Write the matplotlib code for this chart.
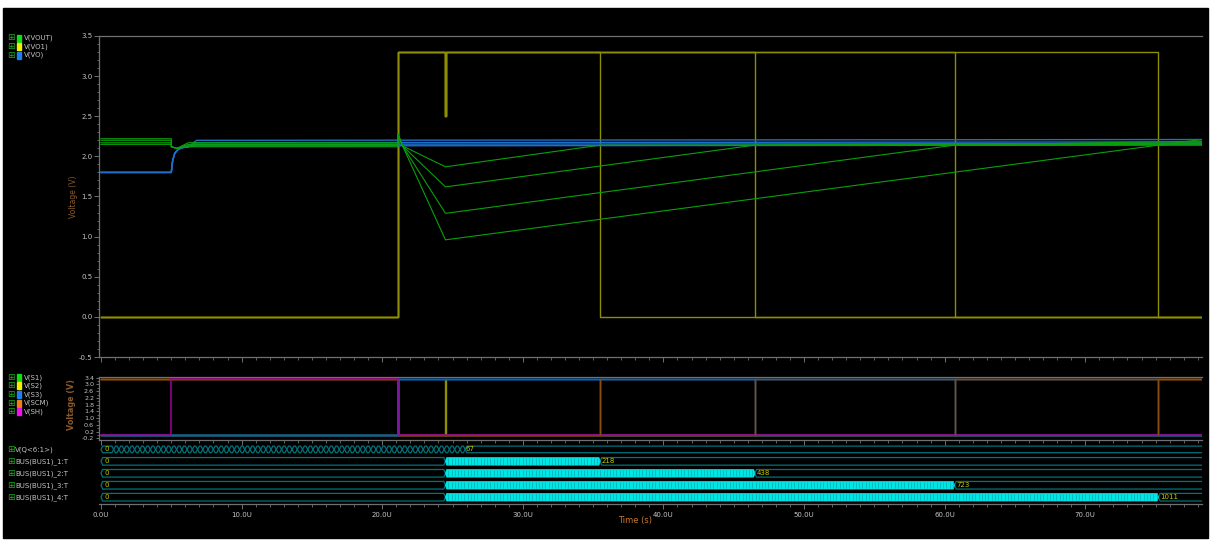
import numpy as np
import matplotlib
matplotlib.use("Agg")
import matplotlib.pyplot as plt
from matplotlib.patches import Rectangle, Polygon
from matplotlib.ticker import FuncFormatter, MultipleLocator

W, H = 1216, 543

# ---------------- data ----------------
T_END = 78.3
t_sh_on = 5.0          # SH switches on
t_start = 21.1         # conversion start
t_sample = 24.5        # sampling instant
end_times = [35.5, 46.5, 60.7, 75.2]     # per sweep run
bus_counts = [218, 438, 723, 1011]       # final counter value per run
q_begin, q_end, q_final = 0.9, 25.9, 67

vo1_high = 3.3
vo1_glitch = 2.5
vout_pre = [2.22, 2.20, 2.17, 2.15]
vout_mid = [2.12, 2.14, 2.15, 2.17]
vout_dip = [1.87, 1.62, 1.29, 0.96]
vout_post = [2.15, 2.17, 2.19, 2.21]
vout_peak = 2.27
vout_knee = 2.13
vout_ret = 2.14

vo_pre = 1.80
vo_rise_t = [5.0, 5.1, 5.25, 5.5, 5.8, 6.2, 6.8]
vo_rise_v = [1.80, 1.95, 2.04, 2.09, 2.11, 2.12]
vo_levels = [2.13, 2.15, 2.17, 2.20]
vo_levels_end = [2.14, 2.16, 2.18, 2.21]

sw_high = 3.3

top_names = ["V(VOUT)", "V(VO1)", "V(VO)"]
mid_names = ["V(S1)", "V(S2)", "V(S3)", "V(SCM)", "V(SH)"]
bus_names = ["V(Q<6:1>)", "BUS(BUS1)_1:T", "BUS(BUS1)_2:T",
             "BUS(BUS1)_3:T", "BUS(BUS1)_4:T"]

# ---------------- style ----------------
C_GREEN = "#0aa00a"
C_YEL = "#8e8e00"
C_BLUE = "#1f6ec8"
C_ORANGE = "#8c4c0c"
C_MAG = "#a000a0"
C_SBLUE = "#1060b0"
C_TEAL = "#00727a"
C_CYAN = "#00e6e6"
C_LBL = "#c8c800"
C_AX = "#707070"
C_TXT = "#c4c4c4"
C_YLAB = "#8b5a2b"

fig = plt.figure(figsize=(W / 100, H / 100), dpi=100, facecolor="white")
fig.patches.append(Rectangle((3 / W, 1 - 538 / H), 1205 / W, 530 / H,
                             transform=fig.transFigure, color="black", zorder=-10))


def axes_px(x0, y0, x1, y1):
    ax = fig.add_axes([x0 / W, 1 - y1 / H, (x1 - x0) / W, (y1 - y0) / H])
    ax.set_facecolor("black")
    ax.patch.set_alpha(0)
    for s in ax.spines.values():
        s.set_color(C_AX)
        s.set_linewidth(0.9)
    ax.spines["right"].set_visible(False)
    ax.set_xlim(-0.14, T_END)
    ax.xaxis.set_major_locator(MultipleLocator(10))
    ax.xaxis.set_minor_locator(MultipleLocator(1))
    ax.tick_params(axis="both", which="major", length=3.5, width=0.7,
                   color=C_AX, labelcolor=C_TXT, labelsize=5, pad=1)
    ax.tick_params(axis="both", which="minor", length=1.8, width=0.6, color=C_AX)
    return ax


def ftext(x, y, s, **kw):
    fig.text(x / W, 1 - y / H, s, **kw)


# ---------------- top panel ----------------
ax1 = axes_px(99, 36, 1202, 357)
ax1.set_ylim(-0.5, 3.5)
ax1.yaxis.set_major_locator(MultipleLocator(0.5))
ax1.yaxis.set_minor_locator(MultipleLocator(0.1))
ax1.yaxis.set_major_formatter(FuncFormatter(lambda v, p: f"{v:.1f}"))
ax1.tick_params(axis="x", labelbottom=False)

for i, te in enumerate(end_times):
    t = [0, t_start, t_start, t_sample, t_sample, t_sample + 0.01,
         t_sample + 0.01, te, te, T_END]
    v = [0, 0, vo1_high, vo1_high, vo1_glitch, vo1_glitch, vo1_high,
         vo1_high, 0, 0]
    ax1.plot(t, v, color=C_YEL, lw=1.0, zorder=2)

for i in range(4):
    t = vo_rise_t[:-1] + [vo_rise_t[-1], T_END]
    v = vo_rise_v + [vo_levels[i], vo_levels_end[i]]
    ax1.plot([0] + t, [vo_pre] + v, color=C_BLUE, lw=1.0, zorder=3)

for i, te in enumerate(end_times):
    t = [0, t_sh_on, t_sh_on, 5.4, 6.2, t_start, t_start + 0.03,
         t_start + 0.35, t_sample, te, T_END]
    v = [vout_pre[i], vout_pre[i], vout_mid[0], vout_mid[0] - 0.02,
         vout_mid[i], vout_mid[i], vout_peak, vout_knee, vout_dip[i],
         vout_ret, vout_post[i]]
    ax1.plot(t, v, color=C_GREEN, lw=0.8, zorder=4)

ftext(73, 197, "Voltage (V)", rotation=90, ha="center", va="center",
      color=C_YLAB, fontsize=5.5)

# ---------------- switch panel ----------------
ax2 = axes_px(99, 377, 1202, 440)
ax2.set_ylim(-0.3, 3.44)
ax2.set_yticks(np.arange(-0.2, 3.41, 0.4))
ax2.yaxis.set_minor_locator(MultipleLocator(0.2))
ax2.yaxis.set_major_formatter(FuncFormatter(lambda v, p: f"{v:.1f}"))
ax2.tick_params(axis="y", which="major", length=2.5, labelsize=4.6, pad=1)
ax2.tick_params(axis="x", labelbottom=False)

ax2.plot([0, T_END], [0, 0], color=C_GREEN, lw=1.0, zorder=1)
ax2.plot([0, t_sample, t_sample, t_sample + 0.05, t_sample + 0.05, T_END],
         [0, 0, sw_high, sw_high, 0, 0], color=C_YEL, lw=1.0, zorder=2)
for te in end_times:
    ax2.plot([0, t_start, t_start, te, te, T_END],
             [sw_high, sw_high, 0, 0, sw_high, sw_high], color=C_ORANGE,
             lw=1.0, zorder=3)
for te in end_times:
    ax2.plot([0, t_start, t_start, te, te, T_END],
             [0, 0, sw_high, sw_high, 0, 0], color=C_SBLUE, lw=1.0, zorder=4)
ax2.plot([0, t_sh_on, t_sh_on, t_start, t_start, T_END],
         [0, 0, sw_high, sw_high, 0, 0], color=C_MAG, lw=1.1, zorder=5)
ax2.vlines(end_times, 0, sw_high, color=C_ORANGE, lw=1.0, zorder=6)

ftext(71, 405, "Voltage (V)", rotation=90, ha="center", va="center",
      color=C_YLAB, fontsize=5.8, fontweight="bold")

# ---------------- bus panel ----------------
ax3 = axes_px(99, 441, 1202, 504)
ax3.set_ylim(504, 441)
ax3.set_yticks([])
ax3.spines["left"].set_visible(False)
ax3.spines["top"].set_visible(False)
ax3.xaxis.set_major_formatter(FuncFormatter(lambda v, p: f"{v:.1f}U"))
ax3.tick_params(axis="x", pad=2)

row_y = [449.4 + 11.95 * k for k in range(5)]
row_h = [3.3, 3.8, 3.8, 3.8, 3.8]


def hexseg(yc, h, a, b, d, fill=False):
    pts = [(a, yc), (a + d, yc - h), (b - d, yc - h), (b, yc),
           (b - d, yc + h), (a + d, yc + h)]
    if fill:
        ax3.add_patch(Polygon(pts, closed=True, facecolor=C_CYAN,
                              edgecolor=C_CYAN, lw=0.5, zorder=3))
    else:
        ax3.add_patch(Polygon(pts, closed=True, fill=False,
                              edgecolor=C_TEAL, lw=0.9, zorder=2))


# counter bus: one cell per value up to q_final
yc, h = row_y[0], row_h[0]
hexseg(yc, h, 0, q_begin, 0.12)
edges = np.linspace(q_begin, q_end, q_final + 1)
for a, b in zip(edges[:-1], edges[1:]):
    hexseg(yc, h, a, b, 0.13)
hexseg(yc, h, q_end, T_END + 5, 0.12)
ax3.text(0.25, yc, "0", color=C_LBL, fontsize=5, va="center", ha="left")
ax3.text(q_end + 0.05, yc, str(q_final), color=C_LBL, fontsize=5,
         va="center", ha="left", zorder=5)

for k, (te, cnt) in enumerate(zip(end_times, bus_counts), start=1):
    yc, h = row_y[k], row_h[k]
    hexseg(yc, h, 0, t_sample, 0.12)
    hexseg(yc, h, t_sample, te, 0.08, fill=True)
    ax3.vlines(np.arange(t_sample + 0.2, te - 0.05, 0.23), yc - h + 0.6,
               yc + h - 0.6, color="#00a4a8", lw=0.45, zorder=4)
    hexseg(yc, h, te, T_END + 5, 0.12)
    ax3.text(0.25, yc, "0", color=C_LBL, fontsize=5, va="center", ha="left")
    ax3.text(te + 0.1, yc, str(cnt), color=C_LBL, fontsize=5,
             va="center", ha="left", zorder=5)

ftext(635, 521, "Time (s)", ha="center", va="center", color="#c87a2c",
      fontsize=6)

# ---------------- signal name lists ----------------
def name_list(names, colors, ys, x_txt):
    for name, col, y in zip(names, colors, ys):
        ftext(10.5, y, "\u229e", color="#1ea81e", fontsize=6.5, ha="center",
              va="center")
        if col is not None:
            fig.patches.append(Rectangle((16.5 / W, 1 - (y + 3.5) / H),
                                         4 / W, 7 / H,
                                         transform=fig.transFigure,
                                         color=col, zorder=5))
        ftext(x_txt, y, name, color=C_TXT, fontsize=5, ha="left",
              va="center")


name_list(top_names, ["#10e010", "#f0f000", "#1e80f0"], [38, 46.5, 55], 24)
name_list(mid_names, ["#10e010", "#f0f000", "#1e80f0", "#f08010", "#f010f0"],
          [377.7, 385.9, 394.3, 403.2, 411.6], 24)
name_list(bus_names, [None] * 5, row_y, 15)

fig.savefig("out.png", dpi=100, facecolor="white")
